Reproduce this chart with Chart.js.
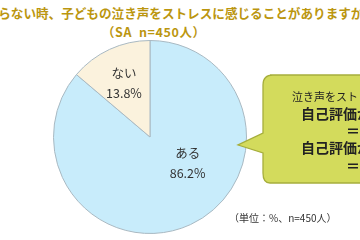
<!DOCTYPE html>
<html>
<head>
<meta charset="utf-8">
<script src="https://cdn.jsdelivr.net/npm/chart.js@4"></script>
<style>
  body { margin: 0; background: #fff; }
  #wrap { position: relative; width: 360px; height: 240px; overflow: hidden; font-family: "Noto Sans CJK JP", "Noto Sans", sans-serif; }
  #chart { position: absolute; left: 53px; top: 40px; }
  .title { position: absolute; white-space: nowrap; color: #bb960f; font-weight: bold; font-size: 12.6px; }
  #bubble { position: absolute; left: 236px; top: 73px; }
  .btxt { position: absolute; white-space: nowrap; color: #222; }
  #note { position: absolute; left: 229px; top: 210px; font-size: 10px; color: #333; white-space: nowrap; }
</style>
</head>
<body>
<div id="wrap">
  <div class="title" style="left:-27px; top:3px;">止まらない時、子どもの泣き声をストレスに感じることがありますか</div>
  <div class="title" style="left:102px; top:22px; font-size:12.5px; letter-spacing:0.6px;">（SA&nbsp;&nbsp;n=450人）</div>
  <canvas id="chart" width="194" height="194"></canvas>
  <svg id="bubble" width="130" height="114">
    <path d="M34,2 H140 V110 H34 Q27,110 27,100 V80 L2,72 L27,60 V12 Q27,2 37,2 Z" fill="#d3db5c" stroke="#a6ae3c" stroke-width="1.3"/>
  </svg>
  <div class="btxt" style="left:292px; top:88px; font-size:11px;">泣き声をストレスに感じる人ほど</div>
  <div class="btxt" style="left:301px; top:103px; font-size:14px; font-weight:bold;">自己評価が低い</div>
  <div class="btxt" style="left:346px; top:120px; font-size:14px; font-weight:bold;">＝</div>
  <div class="btxt" style="left:301px; top:137px; font-size:14px; font-weight:bold;">自己評価が低い</div>
  <div class="btxt" style="left:346px; top:155px; font-size:14px; font-weight:bold;">＝</div>
  <div id="note">（単位：%、n=450人）</div>
</div>
<script>
const categories = ["ある", "ない"];
const values = [86.2, 13.8];
const sliceColors = ["#c8ecfb", "#fbf2dd"];
// label placement in radius units relative to the pie centre
const labelOffsets = [[0.39, 0.27], [-0.27, -0.56]];

const sliceLabels = {
  id: "sliceLabels",
  afterDatasetsDraw(chart) {
    const ctx = chart.ctx;
    const arcs = chart.getDatasetMeta(0).data;
    ctx.save();
    ctx.fillStyle = "#333";
    ctx.textAlign = "center";
    ctx.textBaseline = "middle";
    ctx.font = "12.5px 'Noto Sans CJK JP', sans-serif";
    arcs.forEach(function (arc, i) {
      const r = arc.outerRadius;
      const x = arc.x + labelOffsets[i][0] * r;
      const y = arc.y + labelOffsets[i][1] * r;
      ctx.fillText(categories[i], x, y - 10);
      ctx.fillText(values[i].toFixed(1) + "%", x, y + 10);
    });
    ctx.restore();
  }
};

new Chart(document.getElementById("chart"), {
  type: "pie",
  data: {
    labels: categories,
    datasets: [{
      data: values,
      backgroundColor: sliceColors,
      borderColor: "#a9b9c2",
      borderWidth: 1
    }]
  },
  options: {
    responsive: false,
    animation: false,
    layout: { padding: 0 },
    plugins: {
      legend: { display: false },
      tooltip: { enabled: false }
    }
  },
  plugins: [sliceLabels]
});
</script>
</body>
</html>
